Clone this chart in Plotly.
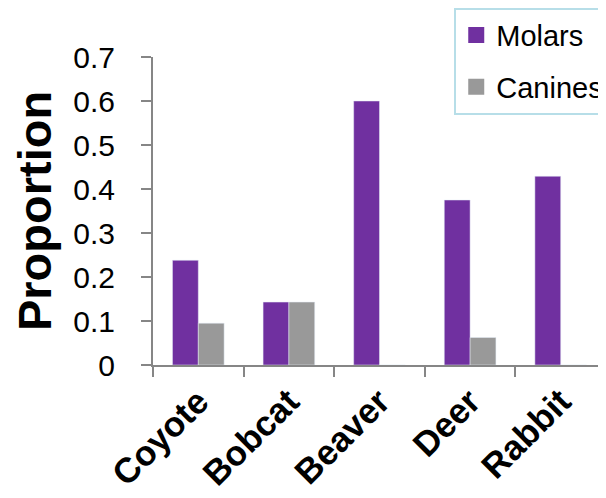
import plotly.graph_objects as go

# --- DATA ---
animals = ['Coyote', 'Bobcat', 'Beaver', 'Deer', 'Rabbit']
molars = [0.238, 0.143, 0.6, 0.375, 0.429]
canines = [0.095, 0.143, 0.0, 0.0625, 0.0]
y_ticks = [0, 0.1, 0.2, 0.3, 0.4, 0.5, 0.6, 0.7]
y_labels = ['0', '0.1', '0.2', '0.3', '0.4', '0.5', '0.6', '0.7']
# -------------

FONT = 'Arial, Liberation Sans, sans-serif'
AXIS_GREY = '#868686'
MOLAR_COL = '#7030A0'
CANINE_COL = '#999999'

fig = go.Figure()

fig.add_trace(go.Bar(x=animals, y=molars, name='Molars',
                     marker_color=MOLAR_COL, showlegend=False))
fig.add_trace(go.Bar(x=animals, y=canines, name='Canines',
                     marker_color=CANINE_COL, showlegend=False))

# legend-only entries so the swatches can be bigger squares
for name, col in [('Molars', MOLAR_COL), ('Canines', CANINE_COL)]:
    fig.add_trace(go.Scatter(
        x=[None], y=[None], mode='markers', name=name, legendgroup=name,
        marker=dict(symbol='square', size=16, color=col)
    ))

# page body has an 8px margin, so the figure is 8px smaller than the window
# autoexpand off: the legend runs off the right edge like in the original
fig.update_layout(
    width=598, height=490,
    margin=dict(l=145, r=0, t=49, b=133, autoexpand=False),
    paper_bgcolor='white', plot_bgcolor='white',
    font=dict(family=FONT, color='black'),
    barmode='group', bargap=0.43, bargroupgap=0,
    legend=dict(
        x=0.665, y=1.16, xanchor='left', yanchor='top',
        bordercolor='#B7DEE8', borderwidth=2,
        font=dict(size=29), tracegroupgap=11,
        bgcolor='rgba(255,255,255,0)'
    ),
)

fig.update_yaxes(
    range=[0, 0.7], tickvals=y_ticks, ticktext=y_labels,
    showgrid=False, zeroline=False, automargin=False,
    showline=True, linecolor=AXIS_GREY, linewidth=2,
    ticks='outside', ticklen=10, tickwidth=2, tickcolor=AXIS_GREY,
    tickfont=dict(size=30), ticklabelstandoff=20,
    title=dict(text='<b>Proportion</b>', font=dict(size=47), standoff=14),
)

fig.update_xaxes(
    showgrid=False, zeroline=False, automargin=False,
    showline=True, linecolor=AXIS_GREY, linewidth=2,
    ticks='outside', ticklen=10, tickwidth=2, tickcolor=AXIS_GREY,
    tickson='boundaries',
    tickangle=-45, tickfont=dict(size=35),
    tickvals=animals, ticktext=['<b>%s</b>' % a for a in animals],
)

fig.write_html('out.html')
